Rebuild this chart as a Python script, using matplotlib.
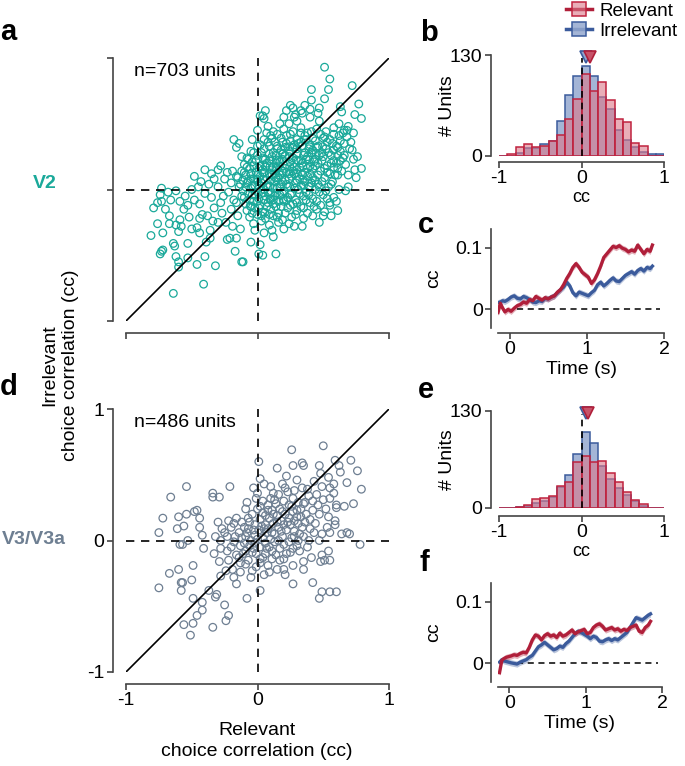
import numpy as np
import matplotlib
matplotlib.use('Agg')
import matplotlib.pyplot as plt
from matplotlib.lines import Line2D

plt.rcParams['font.family'] = ['Liberation Sans', 'DejaVu Sans']
plt.rcParams['axes.unicode_minus'] = False

# ---- data ----
# V2 units: (relevant cc, irrelevant cc)
v2_pts = np.array([
    (0.51, 0.93), (0.41, 0.76), (0.54, 0.76), (0.55, 0.84), (0.72, 0.79), (0.41, 0.68), (0.51, 0.69),
    (0.77, 0.65), (0.74, 0.57), (0.79, 0.54), (0.63, 0.63), (0.64, 0.59), (0.68, 0.45), (0.71, 0.36),
    (0.73, 0.23), (0.79, 0.16), (0.74, 0.15), (0.69, 0.11), (0.75, 0.09), (0.59, 0.11), (0.61, 0.16),
    (0.61, -0.16), (0.47, -0.25), (0.34, -0.28), (0.28, -0.28), (0.20, -0.30), (0.14, -0.49),
    (0.04, -0.50), (0.01, -0.49), (0.06, 0.60), (0.02, 0.56), (0.05, 0.54), (0.17, 0.50),
    (-0.18, 0.38), (-0.16, 0.32), (-0.14, 0.35), (-0.12, 0.25),
    (-0.40, 0.15), (-0.48, 0.10), (-0.43, 0.06), (-0.37, 0.04), (-0.30, 0.15), (-0.23, 0.13), (-0.19, 0.14),
    (-0.73, 0.01), (-0.74, -0.04), (-0.62, -0.01), (-0.68, -0.02), (-0.50, 0.00),
    (-0.79, -0.14), (-0.76, -0.10), (-0.73, -0.09),
    (-0.81, -0.35), (-0.76, -0.26), (-0.72, -0.33), (-0.67, -0.20), (-0.67, -0.26), (-0.62, -0.27),
    (-0.58, -0.28), (-0.60, -0.32), (-0.64, -0.41), (-0.63, -0.43), (-0.74, -0.49), (-0.72, -0.46),
    (-0.73, -0.47), (-0.62, -0.51), (-0.60, -0.55), (-0.60, -0.59), (-0.53, -0.41), (-0.53, -0.52),
    (-0.46, -0.57), (-0.41, -0.72), (-0.64, -0.79), (-0.32, -0.58), (-0.40, -0.51),
    (-0.39, -0.40), (-0.36, -0.37), (-0.23, -0.38), (-0.21, -0.37), (-0.16, -0.37), (-0.17, -0.47),
    (-0.12, -0.55), (-0.11, -0.55),
    (-0.53, -0.12), (-0.44, -0.11), (-0.42, -0.19), (-0.38, -0.20), (-0.34, -0.24), (-0.30, -0.25),
    (-0.36, -0.31), (-0.44, -0.33), (-0.46, -0.29), (-0.52, -0.21), (-0.59, -0.23),
    (-0.55, -0.05), (-0.48, -0.08), (-0.45, 0.02), (-0.40, -0.03), (-0.35, -0.06), (-0.33, 0.08),
    (-0.30, 0.02), (-0.28, -0.10), (-0.26, -0.05), (-0.25, 0.08), (-0.22, -0.02), (-0.20, 0.05),
    (-0.20, -0.15), (-0.18, -0.08), (-0.16, 0.10), (-0.15, -0.20), (-0.14, 0.02), (-0.27, -0.18),
    (-0.33, -0.14), (-0.24, -0.25), (-0.19, -0.28), (-0.13, -0.30), (-0.28, 0.18), (-0.35, 0.12),
    (-0.44, -0.22), (-0.50, -0.30), (-0.56, -0.15), (-0.66, -0.08), (-0.70, -0.15), (-0.59, -0.09),
    (0.20, 0.46), (0.27, 0.44), (0.33, 0.47), (0.38, 0.43), (0.45, 0.46), (0.52, 0.44), (0.58, 0.47),
    (0.24, 0.50), (0.62, 0.50), (0.47, 0.52),
    (0.10, 0.41), (0.18, 0.39), (0.25, 0.42), (0.30, 0.38), (0.36, 0.41), (0.42, 0.39), (0.48, 0.42),
    (0.55, 0.38), (0.62, 0.41), (0.13, 0.36), (0.68, 0.40),
    (0.02, 0.34), (0.08, 0.36), (0.15, 0.33), (0.22, 0.35), (0.27, 0.32), (0.33, 0.36), (0.40, 0.34),
    (0.46, 0.33), (0.53, 0.36), (0.60, 0.33), (0.66, 0.35), (0.58, 0.30),
    (-0.05, 0.29), (0.05, 0.31), (0.12, 0.28), (0.18, 0.30), (0.24, 0.29), (0.30, 0.31), (0.36, 0.28),
    (0.42, 0.30), (0.49, 0.28), (0.56, 0.26), (0.63, 0.29), (0.70, 0.31),
    (-0.08, 0.24), (0.00, 0.26), (0.06, 0.23), (0.11, 0.25), (0.16, 0.22), (0.21, 0.26), (0.27, 0.24),
    (0.33, 0.22), (0.38, 0.25), (0.44, 0.23), (0.50, 0.25), (0.58, 0.22), (0.65, 0.24),
    (-0.10, 0.19), (-0.04, 0.21), (0.02, 0.18), (0.07, 0.20), (0.12, 0.17), (0.17, 0.21), (0.22, 0.19),
    (0.28, 0.17), (0.34, 0.20), (0.40, 0.18), (0.46, 0.20), (0.53, 0.18), (0.60, 0.20), (0.67, 0.19),
    (-0.12, 0.14), (-0.06, 0.16), (-0.01, 0.13), (0.04, 0.15), (0.09, 0.12), (0.14, 0.16), (0.19, 0.14),
    (0.24, 0.12), (0.30, 0.15), (0.36, 0.13), (0.42, 0.16), (0.48, 0.14), (0.55, 0.12), (0.64, 0.14),
    (-0.15, 0.09), (-0.09, 0.11), (-0.03, 0.08), (0.02, 0.10), (0.06, 0.07), (0.11, 0.11), (0.16, 0.09),
    (0.21, 0.07), (0.26, 0.10), (0.32, 0.08), (0.38, 0.10), (0.44, 0.07), (0.51, 0.09), (0.57, 0.06),
    (-0.13, 0.04), (-0.07, 0.06), (-0.02, 0.03), (0.03, 0.05), (0.08, 0.02), (0.13, 0.06), (0.18, 0.04),
    (0.23, 0.02), (0.29, 0.05), (0.35, 0.03), (0.41, 0.05), (0.47, 0.02), (0.56, 0.04),
    (-0.11, -0.01), (-0.05, 0.01), (0.00, -0.02), (0.05, 0.00), (0.10, -0.03), (0.15, 0.01), (0.20, -0.01),
    (0.26, -0.03), (0.31, 0.00), (0.37, -0.02), (0.44, 0.00), (0.52, -0.01), (0.62, 0.00), (0.67, -0.01),
    (0.69, 0.02),
    (-0.10, -0.06), (-0.04, -0.04), (0.01, -0.07), (0.06, -0.05), (0.12, -0.08), (0.17, -0.04),
    (0.23, -0.06), (0.29, -0.08), (0.35, -0.05), (0.42, -0.07), (0.50, -0.04), (0.58, -0.06),
    (-0.09, -0.11), (-0.03, -0.09), (0.02, -0.12), (0.08, -0.10), (0.14, -0.13), (0.20, -0.09),
    (0.27, -0.11), (0.33, -0.13), (0.40, -0.10), (0.48, -0.12), (0.55, -0.10),
    (-0.08, -0.16), (-0.02, -0.14), (0.04, -0.17), (0.10, -0.15), (0.16, -0.18), (0.23, -0.14),
    (0.30, -0.16), (0.38, -0.18), (0.45, -0.15), (0.51, -0.17),
    (-0.06, -0.21), (0.00, -0.19), (0.06, -0.22), (0.12, -0.20), (0.19, -0.23), (0.26, -0.21),
    (0.35, -0.22), (0.42, -0.20),
    (-0.03, -0.26), (0.03, -0.24), (0.09, -0.27), (0.16, -0.25), (0.24, -0.26), (0.11, -0.31),
    (-0.02, -0.31), (0.05, -0.33), (0.12, -0.36), (-0.05, -0.40), (0.02, -0.42),
    (0.045, 0.125), (0.095, 0.175), (0.145, 0.225), (0.195, 0.275), (0.245, 0.325), (0.295, 0.225),
    (0.245, 0.175), (0.195, 0.125), (0.145, 0.075), (0.095, 0.025), (0.045, -0.025), (0.145, -0.025),
    (0.245, 0.025), (0.345, 0.075), (0.345, 0.175), (0.295, 0.125), (0.395, 0.225), (0.445, 0.275),
    (-0.005, 0.075), (0.045, 0.225), (0.095, -0.075), (0.195, -0.075), (-0.055, -0.125), (0.055, -0.175),
    (0.395, 0.325), (0.495, 0.325), (0.395, 0.025),
    (-0.04, 0.38), (0.00, 0.45), (0.08, 0.48), (0.12, 0.44), (0.20, 0.55), (0.28, 0.55), (0.34, 0.58),
    (0.27, 0.62), (0.30, 0.52), (0.40, 0.55), (0.46, 0.58), (0.36, 0.64), (0.22, 0.60),
    (0.04, 0.56), (0.29, 0.57), (0.33, 0.60), (0.40, 0.61), (0.47, 0.62), (0.25, 0.64),
    (0.69, 0.48), (0.73, 0.43), (0.66, 0.45), (0.72, 0.30), (0.76, 0.25), (0.66, 0.26),
    (0.55, -0.12), (0.50, -0.20), (0.60, -0.09), (0.56, -0.20),
    (-0.05, 0.12), (-0.08, 0.05), (-0.12, -0.05), (-0.16, -0.10),
    (0.07, 0.43), (0.15, 0.42), (0.22, 0.41), (0.33, 0.43), (0.41, 0.44), (0.51, 0.40), (0.58, 0.42),
    (0.65, 0.43),
    (0.05, 0.38), (0.11, 0.39), (0.19, 0.36), (0.25, 0.37), (0.31, 0.35), (0.37, 0.38), (0.44, 0.37),
    (0.50, 0.39), (0.57, 0.35), (0.63, 0.37),
    (0.00, 0.33), (0.09, 0.33), (0.15, 0.31), (0.21, 0.32), (0.28, 0.34), (0.34, 0.33), (0.39, 0.31),
    (0.45, 0.32), (0.52, 0.31), (0.61, 0.32),
    (-0.03, 0.28), (0.03, 0.28), (0.09, 0.27), (0.14, 0.26), (0.19, 0.27), (0.24, 0.25), (0.30, 0.27),
    (0.35, 0.26), (0.41, 0.28), (0.47, 0.26), (0.54, 0.28), (0.61, 0.26),
    (-0.07, 0.23), (-0.01, 0.22), (0.04, 0.24), (0.09, 0.22), (0.14, 0.20), (0.19, 0.23), (0.25, 0.21),
    (0.31, 0.22), (0.37, 0.23), (0.43, 0.21), (0.49, 0.22), (0.56, 0.20), (0.63, 0.22),
    (-0.08, 0.17), (-0.03, 0.18), (0.01, 0.16), (0.06, 0.17), (0.11, 0.15), (0.16, 0.18), (0.21, 0.16),
    (0.27, 0.14), (0.32, 0.17), (0.38, 0.16), (0.44, 0.18), (0.51, 0.16), (0.58, 0.17),
    (-0.10, 0.13), (-0.05, 0.12), (0.00, 0.11), (0.05, 0.13), (0.13, 0.12), (0.17, 0.11), (0.22, 0.13),
    (0.28, 0.12), (0.34, 0.11), (0.40, 0.12), (0.46, 0.11), (0.53, 0.13), (0.61, 0.11),
    (-0.11, 0.07), (-0.05, 0.08), (0.00, 0.06), (0.04, 0.08), (0.10, 0.07), (0.14, 0.09), (0.19, 0.06),
    (0.24, 0.08), (0.30, 0.07), (0.36, 0.06), (0.42, 0.09), (0.49, 0.06),
    (-0.09, 0.02), (-0.04, 0.03), (0.01, 0.01), (0.07, 0.03), (0.12, 0.01), (0.17, 0.02), (0.22, 0.04),
    (0.28, 0.01), (0.33, 0.03), (0.39, 0.02), (0.46, 0.04), (0.54, 0.02),
    (-0.07, -0.03), (-0.02, -0.04), (0.03, -0.03), (0.08, -0.02), (0.13, -0.05), (0.19, -0.03),
    (0.25, -0.04), (0.32, -0.03), (0.39, -0.04), (0.47, -0.02),
    (-0.06, -0.08), (0.00, -0.09), (0.05, -0.08), (0.10, -0.07), (0.16, -0.09), (0.22, -0.08),
    (0.30, -0.10), (0.37, -0.08), (0.45, -0.09), (0.53, -0.07),
    (-0.05, -0.13), (0.01, -0.14), (0.07, -0.13), (0.12, -0.11), (0.18, -0.13), (0.25, -0.12),
    (0.35, -0.14), (0.43, -0.13),
    (-0.04, -0.18), (0.03, -0.20), (0.09, -0.19), (0.15, -0.21), (0.21, -0.18), (0.29, -0.19),
])

# V3/V3a units
v3_pts = np.array([
    (0.50, 0.72), (0.26, 0.69), (0.01, 0.60), (0.15, 0.55), (0.27, 0.57), (0.35, 0.57), (0.34, 0.59),
    (0.47, 0.57), (0.59, 0.61), (0.71, 0.61), (0.62, 0.57), (0.63, 0.52), (0.76, 0.53), (0.48, 0.51),
    (0.54, 0.48), (0.58, 0.43), (0.68, 0.44), (0.79, 0.39), (0.73, 0.28), (0.66, 0.26), (0.60, 0.25),
    (0.55, 0.32), (0.59, 0.15), (0.68, 0.06), (0.70, 0.05), (0.64, 0.05), (0.78, -0.03), (0.54, -0.08),
    (0.49, -0.11), (0.47, 0.00), (0.55, 0.06), (0.55, -0.15), (0.51, -0.15), (0.48, -0.16), (0.41, -0.13),
    (0.32, -0.08), (0.35, -0.16), (0.27, -0.19), (0.35, -0.22), (0.20, -0.22), (0.15, -0.22),
    (0.21, -0.26), (0.27, -0.33), (0.42, -0.32), (0.49, -0.39), (0.55, -0.39), (0.60, -0.39),
    (0.47, -0.44), (0.02, -0.38), (0.05, -0.26), (-0.08, -0.44), (-0.22, -0.57), (-0.24, -0.61),
    (-0.34, -0.66), (-0.25, -0.49), (-0.31, -0.41), (-0.32, -0.43), (-0.37, -0.38), (-0.42, -0.47),
    (-0.46, -0.57), (-0.42, -0.53), (-0.56, -0.64), (-0.49, -0.63), (-0.51, -0.72), (-0.49, -0.44),
    (-0.58, -0.32), (-0.57, -0.32), (-0.58, -0.38), (-0.50, -0.30), (-0.49, -0.19), (-0.60, -0.22),
    (-0.67, -0.25), (-0.75, -0.36), (-0.41, -0.06), (-0.59, -0.03), (-0.57, -0.03), (-0.53, 0.00),
    (-0.61, 0.09), (-0.75, 0.06), (-0.72, 0.17), (-0.60, 0.18), (-0.56, 0.11), (-0.54, 0.20),
    (-0.48, 0.22), (-0.46, 0.23), (-0.44, 0.17), (-0.44, 0.10), (-0.42, 0.04), (-0.66, 0.33),
    (-0.54, 0.41), (-0.34, 0.36), (-0.34, 0.33), (-0.29, 0.33), (-0.21, 0.41), (-0.09, 0.24),
    (-0.08, 0.29), (-0.03, 0.40), (0.02, 0.47), (0.05, 0.43), (0.10, 0.41), (0.12, 0.36), (0.19, 0.43),
    (0.21, 0.40), (0.22, 0.49), (0.30, 0.46), (0.34, 0.40), (0.39, 0.34), (0.43, 0.45), (0.49, 0.41),
    (0.45, 0.35), (0.55, 0.40), (0.58, 0.36), (0.60, 0.27), (0.42, 0.30), (0.36, 0.29), (0.47, 0.20),
    (0.54, 0.18), (0.59, 0.12), (0.53, 0.10), (0.49, 0.05), (0.43, 0.06), (0.39, 0.00), (0.38, -0.05),
    (0.31, 0.00), (0.32, 0.05), (0.28, 0.03),
    (-0.30, 0.14), (-0.27, 0.09), (-0.22, 0.15), (-0.18, 0.13), (-0.16, 0.17), (-0.32, 0.03),
    (-0.28, 0.00), (-0.23, 0.03), (-0.20, -0.05), (-0.28, -0.06), (-0.33, -0.10), (-0.29, -0.16),
    (-0.22, -0.15), (-0.16, -0.11), (-0.13, -0.17), (-0.19, -0.22), (-0.24, -0.23), (-0.28, -0.27),
    (-0.18, -0.28), (-0.13, -0.24), (-0.16, -0.33), (-0.04, -0.23), (-0.07, -0.15), (-0.11, -0.10),
    (-0.03, -0.06), (-0.01, -0.10), (0.02, -0.14), (0.06, -0.10), (0.11, -0.08), (0.17, -0.06),
    (0.11, -0.14), (0.17, -0.15), (0.08, -0.19), (0.02, -0.17), (-0.01, -0.20),
    (-0.12, 0.02), (-0.08, 0.06), (-0.05, 0.00), (-0.02, 0.04), (0.01, 0.08), (0.04, 0.02), (0.07, 0.06),
    (0.10, 0.01), (0.13, 0.05), (0.16, 0.10), (0.19, 0.03), (0.22, 0.08), (0.25, 0.12), (0.28, 0.07),
    (0.31, 0.13), (0.34, 0.10), (-0.10, 0.10), (-0.06, 0.14), (-0.02, 0.12), (0.02, 0.16), (0.06, 0.12),
    (0.09, 0.17), (0.12, 0.13), (0.15, 0.19), (0.18, 0.15), (0.21, 0.20), (0.24, 0.17), (0.27, 0.22),
    (0.30, 0.18), (0.33, 0.24), (0.37, 0.20), (0.40, 0.16), (-0.04, 0.20), (0.00, 0.24), (0.04, 0.21),
    (0.08, 0.27), (0.11, 0.23), (0.14, 0.28), (0.17, 0.24), (0.20, 0.30), (0.24, 0.27), (0.27, 0.32),
    (0.31, 0.29), (0.10, 0.32), (0.04, 0.30), (-0.01, 0.32), (0.16, 0.35), (0.23, 0.37),
    (-0.06, -0.04), (-0.02, -0.02), (0.02, -0.05), (0.06, -0.02), (0.09, -0.05), (0.13, -0.01),
    (0.16, 0.00), (0.20, -0.03), (0.24, -0.01), (0.27, -0.06), (0.22, -0.10), (-0.09, -0.08),
    (0.05, 0.09), (0.18, 0.07), (0.26, 0.02), (-0.14, 0.06), (-0.17, 0.03), (-0.10, -0.02),
    (-0.07, 0.09), (-0.03, 0.08), (0.03, 0.11), (0.08, 0.09), (0.11, 0.06), (0.15, 0.14), (0.20, 0.12),
    (0.23, 0.14), (0.28, 0.15), (0.33, 0.18), (0.36, 0.14), (0.06, 0.19), (0.12, 0.20), (0.19, 0.22),
    (0.26, 0.26), (0.30, 0.23), (0.35, 0.28), (0.02, 0.26), (0.08, 0.23), (-0.07, 0.17), (-0.12, 0.14),
    (0.07, -0.06), (0.00, 0.01), (-0.04, -0.09), (0.04, -0.13), (0.14, -0.11), (0.20, -0.14),
    (0.25, -0.09), (0.30, -0.04), (0.35, 0.03), (0.40, 0.09), (0.44, 0.13), (0.42, 0.23), (0.46, 0.27),
    (0.50, 0.31), (0.52, 0.24), (0.38, 0.39), (0.28, 0.38), (0.13, 0.31), (-0.09, 0.03), (-0.13, -0.04),
    (-0.18, -0.01), (-0.23, -0.08), (-0.25, 0.06), (-0.20, 0.10), (-0.14, -0.13), (-0.09, -0.18),
    (-0.05, -0.28), (0.09, -0.24), (0.00, 0.36),
])

# histograms: 20 bins of width 0.1 from -1 to 1
bin_left = np.round(np.arange(-1.0, 1.0, 0.1), 2)
b_rel = [0, 2, 12, 16, 12, 13, 19, 27, 47, 73, 105, 84, 95, 72, 48, 44, 17, 13, 0, 0]
b_irr = [0, 0, 4, 10, 10, 16, 19, 45, 78, 103, 116, 103, 76, 60, 33, 21, 12, 5, 2, 2]
e_rel = [0, 0, 2, 4, 12, 13, 16, 30, 35, 62, 70, 62, 63, 47, 35, 21, 11, 5, 0, 0]
e_irr = [0, 0, 1, 3, 7, 10, 15, 28, 44, 73, 102, 87, 56, 39, 27, 18, 10, 3, 0, 0]
b_median = {'irr': 0.05, 'rel': 0.10}
e_median = {'irr': 0.05, 'rel': 0.08}

# time courses of cc (s)
t_c = [-0.15, -0.12, -0.09, -0.06, -0.02, 0.02, 0.06, 0.10, 0.14, 0.18, 0.22, 0.26, 0.30, 0.34, 0.38,
       0.42, 0.46, 0.50, 0.54, 0.58, 0.62, 0.66, 0.70, 0.74, 0.78, 0.82, 0.86, 0.90, 0.94, 0.98, 1.02,
       1.06, 1.10, 1.14, 1.18, 1.22, 1.26, 1.30, 1.34, 1.38, 1.42, 1.46, 1.50, 1.54, 1.58, 1.62, 1.66,
       1.70, 1.74, 1.78, 1.82, 1.85]
c_rel = [-0.005, 0.010, 0.002, -0.004, 0.000, -0.003, 0.002, 0.006, 0.008, 0.012, 0.010, 0.016, 0.014,
         0.021, 0.018, 0.015, 0.019, 0.017, 0.020, 0.022, 0.028, 0.032, 0.040, 0.050, 0.058, 0.068,
         0.074, 0.068, 0.060, 0.056, 0.052, 0.042, 0.048, 0.058, 0.070, 0.084, 0.090, 0.096, 0.102,
         0.100, 0.103, 0.099, 0.097, 0.093, 0.096, 0.094, 0.104, 0.097, 0.090, 0.097, 0.094, 0.104]
c_irr = [0.011, 0.012, 0.014, 0.013, 0.016, 0.020, 0.022, 0.018, 0.017, 0.021, 0.019, 0.016, 0.012,
         0.011, 0.014, 0.013, 0.018, 0.017, 0.020, 0.022, 0.027, 0.032, 0.036, 0.044, 0.038, 0.027,
         0.022, 0.028, 0.026, 0.024, 0.022, 0.027, 0.031, 0.040, 0.044, 0.038, 0.042, 0.047, 0.051,
         0.046, 0.045, 0.050, 0.055, 0.058, 0.061, 0.057, 0.063, 0.066, 0.062, 0.068, 0.066, 0.070]
t_f = [-0.13, -0.10, -0.07, -0.04, -0.01, 0.02, 0.06, 0.10, 0.14, 0.18, 0.22, 0.26, 0.30, 0.34, 0.38,
       0.42, 0.46, 0.50, 0.54, 0.58, 0.62, 0.66, 0.70, 0.74, 0.78, 0.82, 0.86, 0.90, 0.94, 0.98, 1.02,
       1.06, 1.10, 1.14, 1.18, 1.22, 1.26, 1.30, 1.34, 1.38, 1.42, 1.46, 1.50, 1.54, 1.58, 1.62, 1.66,
       1.70, 1.74, 1.78, 1.82, 1.85]
f_rel = [-0.015, 0.005, 0.008, 0.010, 0.011, 0.012, 0.014, 0.013, 0.016, 0.018, 0.017, 0.026, 0.038,
         0.046, 0.044, 0.038, 0.045, 0.048, 0.044, 0.046, 0.042, 0.049, 0.044, 0.046, 0.050, 0.054,
         0.048, 0.051, 0.053, 0.055, 0.048, 0.050, 0.058, 0.062, 0.064, 0.060, 0.054, 0.056, 0.058,
         0.054, 0.056, 0.052, 0.055, 0.053, 0.058, 0.060, 0.062, 0.052, 0.050, 0.058, 0.062, 0.068]
f_irr = [0.002, 0.006, 0.004, 0.003, 0.002, 0.001, 0.000, -0.001, 0.002, 0.004, 0.006, 0.010, 0.013,
         0.020, 0.027, 0.030, 0.034, 0.030, 0.026, 0.022, 0.024, 0.028, 0.026, 0.032, 0.036, 0.042,
         0.048, 0.052, 0.050, 0.047, 0.044, 0.040, 0.044, 0.042, 0.036, 0.035, 0.038, 0.040, 0.037,
         0.040, 0.038, 0.042, 0.046, 0.050, 0.058, 0.066, 0.074, 0.072, 0.070, 0.074, 0.078, 0.080]
sem = 0.005

# ---- style ----
W, H = 685, 766
TEAL = '#1aa99a'
SLATE = '#6e7f92'
RED = '#b01f3a'
BLUE = '#3b5b9c'
RED_FACE = (0.86, 0.47, 0.54, 0.6)
BLUE_FACE = (0.58, 0.66, 0.81, 0.85)
SPINE = '#444444'


def px_axes(x0, y0, x1, y1):
    # pixel box (top-left origin) -> figure axes
    return fig.add_axes([x0 / W, 1 - y1 / H, (x1 - x0) / W, (y1 - y0) / H])


def style_axes(ax, left_off, bottom_off, fs):
    for s in ['top', 'right']:
        ax.spines[s].set_visible(False)
    ax.spines['left'].set_position(('outward', left_off))
    ax.spines['bottom'].set_position(('outward', bottom_off))
    for s in ['left', 'bottom']:
        ax.spines[s].set_color(SPINE)
        ax.spines[s].set_linewidth(1.2)
    ax.tick_params(direction='out', length=4, width=1.2, color=SPINE, labelsize=fs, pad=2)
    ax.patch.set_alpha(0)


def scatter_panel(ax, pts, color, label_ticks, n_text):
    ax.plot([-1, 1], [-1, 1], color='black', lw=1.2, zorder=3)
    ax.plot([-1, 1], [0, 0], color='black', lw=1.2, ls=(0, (5, 4)), zorder=3)
    ax.plot([0, 0], [-1, 1], color='black', lw=1.2, ls=(0, (5, 4)), zorder=3)
    ax.scatter(pts[:, 0], pts[:, 1], s=30, facecolors='none', edgecolors=color, linewidths=0.9, zorder=2)
    ax.set_xlim(-1, 1)
    ax.set_ylim(-1, 1)
    style_axes(ax, 9.4, 8.6, 14)
    ax.set_xticks([-1, 0, 1])
    ax.set_yticks([-1, 0, 1])
    if not label_ticks:
        ax.set_xticklabels([])
        ax.set_yticklabels([])
    ax.text(-0.94, 0.9, n_text, fontsize=14, ha='left', va='center')


def hist_panel(ax, rel, irr, med, y_off):
    ax.bar(bin_left, irr, width=0.1, align='edge', facecolor=BLUE_FACE, edgecolor=BLUE, lw=1.1)
    ax.bar(bin_left, rel, width=0.1, align='edge', facecolor=RED_FACE, edgecolor='#c0233f', lw=1.1)
    ax.plot([0, 0], [0, 126], color='black', lw=1.2, ls=(0, (4, 3)), zorder=4)
    ax.plot(med['irr'], 127, marker='v', ms=9, color='#8fa4cc', mec=BLUE, mew=1.2, clip_on=False, zorder=5)
    ax.plot(med['rel'], 127, marker='v', ms=9, color='#c75369', mec=RED, mew=1.2, clip_on=False, zorder=6)
    ax.set_xlim(-1, 1)
    ax.set_ylim(0, 130)
    style_axes(ax, 5.8, y_off, 14)
    ax.set_xticks([-1, 0, 1])
    ax.set_yticks([0, 130])
    ax.set_ylabel('# Units', fontsize=14, labelpad=-4)
    ax.set_xlabel('cc', fontsize=13, labelpad=1)


def time_panel(ax, t, rel, irr):
    ax.plot([0.1, 1.95], [0, 0], color='black', lw=1.1, ls=(0, (4, 3)))
    t, rel, irr = np.array(t), np.array(rel), np.array(irr)
    ax.fill_between(t, irr - sem, irr + sem, color=BLUE, alpha=0.35, lw=0)
    ax.plot(t, irr, color=BLUE, lw=2.4)
    ax.fill_between(t, rel - sem, rel + sem, color=RED, alpha=0.35, lw=0)
    ax.plot(t, rel, color=RED, lw=2.4)
    ax.set_xlim(-0.15, 2)
    ax.set_ylim(-0.03, 0.13)
    style_axes(ax, 5, 3.6, 14)
    ax.set_xticks([0, 1, 2])
    ax.set_yticks([0, 0.1])
    ax.set_yticklabels(['0', '0.1'])
    ax.set_ylabel('cc', fontsize=14, labelpad=10)
    ax.set_xlabel('Time (s)', fontsize=14, labelpad=2)


fig = plt.figure(figsize=(W / 100, H / 100), dpi=100)

ax_a = px_axes(126, 58, 389, 321)
scatter_panel(ax_a, v2_pts, TEAL, False, 'n=703 units')
ax_d = px_axes(126, 409, 389, 672)
scatter_panel(ax_d, v3_pts, SLATE, True, 'n=486 units')

ax_b = px_axes(499, 55, 664, 156)
hist_panel(ax_b, b_rel, b_irr, b_median, 4.3)
ax_e = px_axes(499, 411, 664, 508)
hist_panel(ax_e, e_rel, e_irr, e_median, 5.8)

ax_c = px_axes(498, 229, 664, 328)
time_panel(ax_c, t_c, c_rel, c_irr)
ax_f = px_axes(498, 583, 662, 682)
time_panel(ax_f, t_f, f_rel, f_irr)

# axis titles shared by the scatters
fig.text(60 / W, 1 - 365 / H, 'Irrelevant\nchoice correlation (cc)', rotation=90,
         ha='center', va='center', fontsize=14, linespacing=1.25)
fig.text(257 / W, 1 - 741 / H, 'Relevant\nchoice correlation (cc)', ha='center', va='center',
         fontsize=14, linespacing=1.25)
fig.text(45 / W, 1 - 184 / H, 'V2', color=TEAL, fontsize=14, fontweight='bold', ha='center', va='center')
fig.text(34 / W, 1 - 540 / H, 'V3/V3a', color=SLATE, fontsize=14, fontweight='bold',
         ha='center', va='center')

for letter, x, y in [('a', 0, 32), ('b', 420, 33), ('c', 418, 225), ('d', 0, 387),
                     ('e', 418, 390), ('f', 420, 563)]:
    fig.text(x / W, 1 - y / H, letter, fontsize=21, fontweight='bold', ha='left', va='center')

# legend: line with a small bar-coloured square on it
h_rel = Line2D([], [], color=RED, lw=2.5, marker='s', ms=10, mfc=RED_FACE, mec='#c0233f', mew=1.1)
h_irr = Line2D([], [], color=BLUE, lw=2.5, marker='s', ms=10, mfc=BLUE_FACE, mec=BLUE, mew=1.1)
fig.legend([h_rel, h_irr], ['Relevant', 'Irrelevant'], loc='upper left',
           bbox_to_anchor=(558 / W, 1 + 5 / H), frameon=False, fontsize=13.5,
           handlelength=1.4, handletextpad=0.4, labelspacing=0.15, borderaxespad=0)

fig.savefig('out.png', dpi=100)
